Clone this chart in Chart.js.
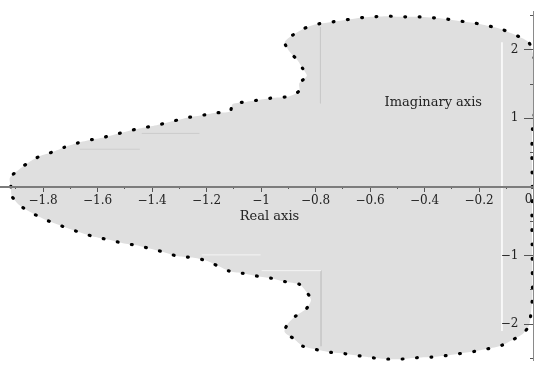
<!DOCTYPE html>
<html>
<head>
<meta charset="utf-8">
<script src="https://cdn.jsdelivr.net/npm/chart.js@4"></script>
<style>
  html, body { margin: 0; padding: 0; background: #fff; }
  #wrap { width: 534px; height: 372px; }
</style>
</head>
<body>
<div id="wrap"><canvas id="plot"></canvas></div>
<script>
// boundary of the region (real part / imaginary part)
// upper half, left tip -> top right
const upperRe = [-1.918, -1.922, -1.886, -1.852, -1.811, -1.765, -1.721, -1.674, -1.621, -1.571, -1.522, -1.472, -1.422,
  -1.372, -1.322, -1.272, -1.222, -1.166, -1.114, -1.104, -1.054, -1.004, -0.954, -0.898, -0.860, -0.860, -0.832,
  -0.848, -0.867, -0.895, -0.913, -0.885, -0.842, -0.798, -0.748, -0.698, -0.648, -0.592, -0.536, -0.486, -0.430,
  -0.380, -0.324, -0.274, -0.218, -0.168, -0.118, -0.081, -0.043, -0.018];
const upperIm = [0, 0.13, 0.26, 0.36, 0.45, 0.51, 0.58, 0.64, 0.69, 0.73, 0.78, 0.83, 0.87,
  0.91, 0.96, 1.01, 1.04, 1.08, 1.10, 1.21, 1.24, 1.27, 1.30, 1.32, 1.40, 1.51, 1.62,
  1.73, 1.85, 1.97, 2.11, 2.21, 2.31, 2.37, 2.40, 2.43, 2.46, 2.48, 2.49, 2.48, 2.48,
  2.47, 2.45, 2.42, 2.39, 2.35, 2.30, 2.24, 2.17, 2.11];

// right side, hugging the imaginary axis, top -> bottom
const sideRe = [-0.008, 0.004, 0.012, 0.012, 0.004, -0.004, -0.006, -0.006, -0.005, -0.005, -0.006, -0.006, -0.005,
  -0.005, -0.004, -0.005, -0.01];
const sideIm = [2.02, 1.85, 1.6, 1.35, 1.1, 0.85, 0.6, 0.35, 0.1, -0.15, -0.4, -0.65, -0.9,
  -1.15, -1.4, -1.65, -1.85];

// lower half, left tip -> bottom right
const lowerRe = [-1.915, -1.885, -1.840, -1.796, -1.751, -1.704, -1.658, -1.608, -1.558, -1.507, -1.458, -1.406,
  -1.356, -1.305, -1.252, -1.205, -1.159, -1.114, -1.065, -1.013, -0.963, -0.912, -0.859, -0.833, -0.817, -0.835,
  -0.869, -0.899, -0.914, -0.881, -0.847, -0.798, -0.746, -0.694, -0.642, -0.591, -0.536, -0.487, -0.432, -0.377,
  -0.325, -0.273, -0.221, -0.170, -0.118, -0.078, -0.039, -0.017];
const lowerIm = [-0.13, -0.27, -0.38, -0.47, -0.54, -0.61, -0.67, -0.73, -0.77, -0.82, -0.85, -0.90,
  -0.95, -1.01, -1.03, -1.07, -1.15, -1.23, -1.26, -1.30, -1.33, -1.38, -1.42, -1.53, -1.65, -1.78,
  -1.87, -1.98, -2.11, -2.21, -2.32, -2.37, -2.41, -2.43, -2.46, -2.49, -2.51, -2.51, -2.49, -2.48,
  -2.46, -2.43, -2.40, -2.36, -2.31, -2.23, -2.14, -2.02];

// faint seams left in the fill
const seamRe = [[-0.116, -0.116], [-0.782, -0.782], [-1.438, -1.226], [-1.665, -1.445], [-1.218, -1.002], [-0.998, -0.780], [-0.780, -0.780]];
const seamIm = [[2.11, -2.10], [2.33, 1.22], [0.78, 0.78], [0.55, 0.55], [-0.99, -0.99], [-1.22, -1.22], [-1.22, -2.32]];
const seamColor = ["#ffffff", "#c9c9c9", "#cdcdcd", "#cdcdcd", "#f4f4f4", "#f4f4f4", "#c9c9c9"];

// ticks
const realTicks = [-1.8, -1.6, -1.4, -1.2, -1, -0.8, -0.6, -0.4, -0.2];
const realMinor = [-1.9, -1.7, -1.5, -1.3, -1.1, -0.9, -0.7, -0.5, -0.3, -0.1];
const imagTicks = [-2, -1, 1, 2];
const imagMinor = [-2.5, -1.5, -0.5, 0.5, 1.5, 2.5];

const textColor = "#222";
const serif = "'DejaVu Serif', serif";

const boundary = [];
upperRe.forEach((v, i) => boundary.push({ x: v, y: upperIm[i] }));
sideRe.forEach((v, i) => boundary.push({ x: v, y: sideIm[i] }));
for (let i = lowerRe.length - 1; i >= 0; i--) {
  boundary.push({ x: lowerRe[i], y: lowerIm[i] });
}
boundary.push({ x: upperRe[0], y: upperIm[0] });

const seams = seamRe.map((xs, i) => ({
  data: xs.map((v, j) => ({ x: v, y: seamIm[i][j] })),
  showLine: true,
  borderColor: seamColor[i],
  borderWidth: i === 0 ? 1.5 : 1,
  pointRadius: 0,
  fill: false,
  order: 2
}));

function minusLabel(v) {
  if (v === 0) return "";
  const s = String(Math.round(Math.abs(v) * 10) / 10);
  return v < 0 ? "\u2212" + s : s;
}

// y labels sit right-aligned on the axis itself, trailing spaces push them past the tick
function imagLabel(v) {
  return minusLabel(v) + "    ";
}

function fixedTicks(list) {
  return function (scale) {
    scale.ticks = list.map(v => ({ value: v }));
  };
}

const axisText = {
  id: "axisText",
  afterDraw(chart) {
    const { ctx, scales: { x, y } } = chart;
    ctx.save();
    ctx.fillStyle = textColor;
    ctx.textAlign = "center";
    ctx.textBaseline = "middle";
    ctx.font = "13px " + serif;
    ctx.fillText("Real axis", x.getPixelForValue(-0.969), y.getPixelForValue(-0.43));
    ctx.fillText("Imaginary axis", x.getPixelForValue(-0.368), y.getPixelForValue(1.23));
    ctx.font = "12px " + serif;
    ctx.fillText("0", x.getPixelForValue(0) - 5, y.getPixelForValue(0) + 13);
    ctx.restore();
  }
};

const xMin = -1.958, xMax = 0.0015;
const yMin = -2.534, yMax = 2.562;

new Chart(document.getElementById("plot"), {
  type: "scatter",
  data: {
    datasets: [
      {
        data: boundary,
        showLine: true,
        tension: 0.25,
        borderColor: "#000",
        borderWidth: 3.2,
        borderDash: [0.8, 13.6],
        borderCapStyle: "round",
        backgroundColor: "#dfdfdf",
        fill: "shape",
        pointRadius: 0,
        order: 1
      },
      ...seams
    ]
  },
  options: {
    responsive: true,
    maintainAspectRatio: false,
    animation: false,
    events: [],
    layout: { padding: 0 },
    plugins: {
      legend: { display: false },
      tooltip: { enabled: false },
      filler: { drawTime: "beforeDatasetsDraw" }
    },
    scales: {
      xm: {
        type: "linear", axis: "x", min: xMin, max: xMax,
        position: { y: 0 },
        afterFit: s => { s.height = 0; },
        afterBuildTicks: fixedTicks(realMinor),
        border: { display: false, z: 1 },
        grid: { drawOnChartArea: false, tickLength: 2, color: "#555", z: 1 },
        ticks: { display: false, z: 1 }
      },
      ym: {
        type: "linear", axis: "y", min: yMin, max: yMax,
        position: { x: 0 },
        afterFit: s => { s.width = 0; },
        afterBuildTicks: fixedTicks(imagMinor),
        border: { display: false, z: 1 },
        grid: { drawOnChartArea: false, tickLength: 4, color: "#555", z: 1 },
        ticks: { display: false, z: 1 }
      },
      x: {
        type: "linear", min: xMin, max: xMax,
        position: { y: 0 },
        afterFit: s => { s.height = 0; },
        afterBuildTicks: fixedTicks(realTicks),
        border: { display: true, color: "#7c7c7c", width: 2, z: 1 },
        grid: { drawOnChartArea: false, tickLength: 4, color: "#555", z: 1 },
        ticks: {
          color: textColor, font: { family: serif, size: 12 },
          padding: 3, maxRotation: 0, autoSkip: false, z: 1,
          callback: minusLabel
        }
      },
      y: {
        type: "linear", min: yMin, max: yMax,
        position: { x: 0 },
        afterFit: s => { s.width = 0; },
        afterBuildTicks: fixedTicks(imagTicks),
        border: { display: true, color: "#8a8a8a", width: 1, z: 1 },
        grid: { drawOnChartArea: false, tickLength: 9, color: "#555", z: 1 },
        ticks: {
          color: textColor, font: { family: serif, size: 12 },
          padding: 4, autoSkip: false, z: 1,
          callback: imagLabel
        }
      }
    }
  },
  plugins: [axisText]
});
</script>
</body>
</html>
